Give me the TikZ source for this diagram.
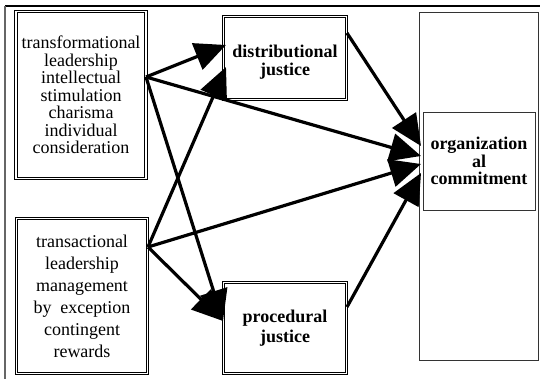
\documentclass[tikz,border=0pt]{standalone}
\usepackage{fontspec}
\setmainfont{Liberation Serif}
\usetikzlibrary{arrows.meta}
\begin{document}
\begin{tikzpicture}[x=1pt,y=-1pt,
  dbl/.style={draw=black,line width=0.9pt,double=white,double distance=1.3pt,inner sep=0pt,align=center},
  plain/.style={draw=black!80,line width=0.9pt,inner sep=0pt,align=center},
  arr/.style={line width=3.2pt,-{Triangle[length=31pt,width=28pt]}},
  txt/.style={font=\fontsize{18}{17.5}\selectfont},
  txtb/.style={font=\fontsize{18}{17.5}\selectfont\bfseries}]
\useasboundingbox (0,0) rectangle (544,379);
% frame
\draw[line width=2pt] (5,6) -- (540,6);
\draw[black!60,line width=1.3pt] (5,6) -- (5,379);
% boxes
\node[dbl,minimum width=130pt,minimum height=167pt,txt] (tf) at (81,95)
  {transformational\\leadership\\intellectual\\stimulation\\charisma\\individual\\consideration};
\node[dbl,minimum width=131pt,minimum height=155pt,font=\fontsize{18}{22}\selectfont] (ta) at (82,296)
  {transactional\\leadership\\management\\by\ \ exception\\contingent\\rewards};
\node[dbl,minimum width=123pt,minimum height=83pt] (dj) at (285,58) {};
\node[align=center,inner sep=0pt,txtb] (djt) at (285,62) {distributional\\justice};
\node[dbl,minimum width=123pt,minimum height=91pt,font=\fontsize{18}{20}\selectfont\bfseries] (pj) at (285,328)
  {procedural\\justice};
\node[plain,minimum width=119pt,minimum height=348pt] (cm) at (478.5,186) {};
\node[plain,minimum width=112pt,minimum height=98pt,txtb] (oc) at (479,161)
  {organization\\al\\commitment};
% connector end points
\coordinate (t1) at (146,77);
\coordinate (t2) at (148,247);
\coordinate (s1) at (347,33);
\coordinate (s2) at (347,307);
\coordinate (d1) at (226,45);
\coordinate (d2) at (226,67);
\coordinate (p1) at (223,321);
\coordinate (o1) at (421,146);
\coordinate (o2) at (421,156);
\coordinate (o3) at (421,164);
\coordinate (o4) at (421,173);
% arrows
\draw[arr] (t1) -- (d1);
\draw[arr] (t1) -- (o2);
\draw[arr] (t1) -- (p1);
\draw[arr] (t2) -- (d2);
\draw[arr] (t2) -- (o3);
\draw[arr] (t2) -- (p1);
\draw[arr] (s1) -- (o1);
\draw[arr] (s2) -- (o4);
\end{tikzpicture}
\end{document}
